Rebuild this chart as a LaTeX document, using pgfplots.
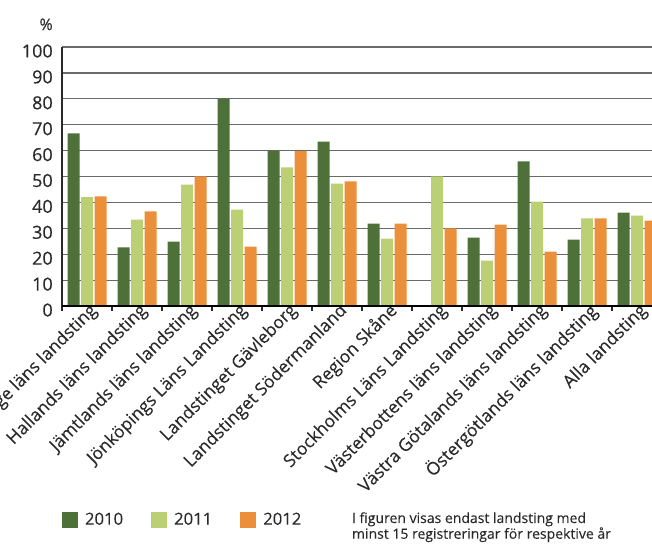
\documentclass[border=0pt]{standalone}
\usepackage{fontspec}
\setmainfont{Open Sans}
\newfontfamily\medfont{Open Sans}[FakeBold=0.4]
\newfontfamily\labfont{Open Sans}[FakeBold=0.15]
\usepackage{pgfplots}
\pgfplotsset{compat=1.18}
\definecolor{cA}{HTML}{4E7139}
\definecolor{cB}{HTML}{BBCF74}
\definecolor{cC}{HTML}{EB8F3B}
\definecolor{txt}{HTML}{2A2A2A}
\definecolor{gridc}{HTML}{6A6A6A}
\pgfplotsset{sqlegend/.style={legend image code/.code={\fill[##1] (0pt,-6pt) rectangle (12pt,6pt);}}}
\begin{document}
\begin{tikzpicture}
\useasboundingbox (0pt,0pt) rectangle (489pt,-408pt);
\begin{axis}[
 name=ax,
 at={(46.5pt,-229.5pt)}, anchor=south west,
 scale only axis, width=450pt, height=194.25pt,
 xmin=-0.5, xmax=11.5, ymin=0, ymax=100,
 ybar=1.125pt, bar width=9pt,
 axis x line*=bottom, axis y line*=left,
 x axis line style={-, black, line width=1.1pt},
 y axis line style={-, txt, line width=0.8pt},
 xtick={0,...,11},
 xticklabels={Blekinge läns landsting, Hallands läns landsting, Jämtlands läns landsting, Jönköpings Läns Landsting, Landstinget Gävleborg, Landstinget Södermanland, Region Skåne, Stockholms Läns Landsting, Västerbottens läns landsting, Västra Götalands läns landsting, Östergötlands läns landsting, Alla landsting},
 minor xtick={-0.5,0.5,...,11.5},
 major tick length=0pt, minor tick length=3.75pt,
 tick align=outside,
 minor tick style={txt, line width=0.8pt},
 ytick={0,10,...,100},
 ymajorgrids, grid style={gridc, line width=0.9pt},
 /pgf/number format/assume math mode=true,
 ticklabel style={text=txt},
 xticklabel style={font=\labfont\fontsize{13.2}{15}\selectfont, rotate=45, anchor=east, inner sep=0pt, xshift=3pt, yshift=-5pt},
 yticklabel style={font=\medfont\fontsize{13.5}{15}\selectfont, inner sep=0pt, xshift=-6.75pt, yshift=-3pt},
 legend style={at={(axis description cs:0,-0.825)}, anchor=west, draw=none, fill=none,
   inner sep=0pt, outer sep=0pt, legend columns=3,
   font=\labfont\fontsize{12.5}{14}\selectfont, text=txt, nodes={inner sep=0pt},
   /tikz/every odd column/.append style={column sep=5.25pt},
   /tikz/every even column/.append style={column sep=21pt}},
]
\addplot[fill=cA, draw=none, sqlegend] coordinates {
(0,66.7) (1,22.6) (2,24.9) (3,80.0) (4,60.0) (5,63.5) (6,31.8) (7,0) (8,26.4) (9,55.8) (10,25.6) (11,36.1)};
\addplot[fill=cB, draw=none, sqlegend] coordinates {
(0,42.0) (1,33.4) (2,46.9) (3,37.2) (4,53.5) (5,47.3) (6,26.0) (7,50.1) (8,17.5) (9,40.3) (10,33.8) (11,34.9)};
\addplot[fill=cC, draw=none, sqlegend] coordinates {
(0,42.3) (1,36.5) (2,50.1) (3,22.9) (4,59.8) (5,48.1) (6,31.8) (7,30.0) (8,31.4) (9,21.0) (10,33.8) (11,33.0)};
\legend{2010,2011,2012}
\draw[black, line width=1.1pt] (rel axis cs:0,0) -- (rel axis cs:1,0);
\end{axis}
\node[anchor=east, inner sep=0pt, font=\medfont\fontsize{12}{14}\selectfont, text=txt] at ([xshift=-6.75pt, yshift=17pt]ax.north west) {\%};
\node[anchor=north west, align=left, inner sep=0pt, font=\labfont\fontsize{10.5}{11.8}\selectfont, text=txt] at (263.8pt,-384pt) {I figuren visas endast landsting med\\minst 15 registreringar för respektive år};
\end{tikzpicture}
\end{document}
